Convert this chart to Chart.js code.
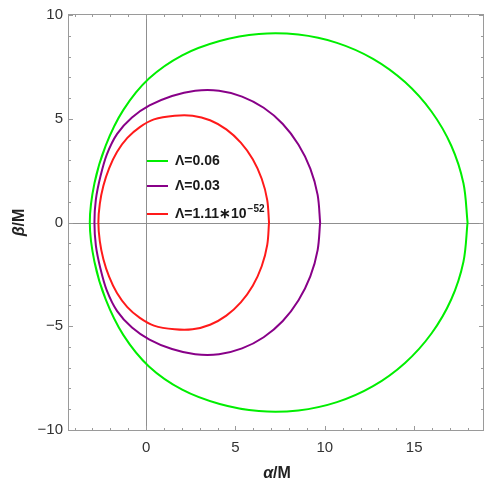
<!DOCTYPE html>
<html>
<head>
<meta charset="utf-8">
<script src="https://cdn.jsdelivr.net/npm/chart.js@4/dist/chart.umd.min.js"></script>
<style>
  html, body { margin: 0; padding: 0; background: #fff; }
  #wrap { width: 486px; height: 484px; }
</style>
</head>
<body>
<div id="wrap"><canvas id="shadowChart" width="486" height="484"></canvas></div>
<script>
// shadow contours (alpha/M, beta/M), traced counterclockwise from the right edge
const alphaGreen = [17.99, 17.76, 17.08, 15.97, 14.49, 12.70, 10.68, 8.52, 6.31, 4.12, 2.02, 0.16, -1.27, -2.26, -2.89, -3.15,
  -2.89, -2.26, -1.27, 0.16, 2.02, 4.12, 6.31, 8.52, 10.68, 12.70, 14.49, 15.97, 17.08, 17.76, 17.99];
const betaGreen = [0, 1.89, 3.70, 5.35, 6.77, 7.89, 8.66, 9.06, 9.09, 8.75, 8.06, 6.94, 5.43, 3.71, 1.89, 0,
  -1.89, -3.71, -5.43, -6.94, -8.06, -8.75, -9.09, -9.06, -8.66, -7.89, -6.77, -5.35, -3.70, -1.89, 0];

const alphaPurple = [9.74, 9.60, 9.19, 8.53, 7.65, 6.58, 5.37, 4.08, 2.75, 1.45, 0.19, -0.79, -1.62, -2.20, -2.56, -2.81, -2.89,
  -2.81, -2.56, -2.20, -1.62, -0.79, 0.19, 1.45, 2.75, 4.08, 5.37, 6.58, 7.65, 8.53, 9.19, 9.60, 9.74];
const betaPurple = [0, 1.33, 2.60, 3.75, 4.75, 5.53, 6.07, 6.35, 6.35, 6.10, 5.64, 5.06, 4.27, 3.27, 2.20, 1.11, 0,
  -1.11, -2.20, -3.27, -4.27, -5.06, -5.64, -6.10, -6.35, -6.35, -6.07, -5.53, -4.75, -3.75, -2.60, -1.33, 0];

const alphaRed = [6.88, 6.78, 6.47, 5.97, 5.30, 4.49, 3.58, 2.60, 1.60, 0.44, -0.35, -1.05, -1.63, -2.07, -2.39, -2.59, -2.67,
  -2.59, -2.39, -2.07, -1.63, -1.05, -0.35, 0.44, 1.60, 2.60, 3.58, 4.49, 5.30, 5.97, 6.47, 6.78, 6.88];
const betaRed = [0, 1.08, 2.11, 3.05, 3.85, 4.49, 4.93, 5.15, 5.15, 4.97, 4.60, 4.08, 3.40, 2.61, 1.77, 0.90, 0,
  -0.90, -1.77, -2.61, -3.40, -4.08, -4.60, -4.97, -5.15, -5.15, -4.93, -4.49, -3.85, -3.05, -2.11, -1.08, 0];

const lambdaLabels = ["Λ=0.06", "Λ=0.03", "Λ=1.11∗10"];
const lambdaExponents = ["", "", "−52"];
const xTickValues = [0, 5, 10, 15];
const yTickValues = [-10, -5, 0, 5, 10];

const lineColors = ["#00ee00", "#880088", "#ff1a1a"];
const FONT = "'Liberation Sans', Arial, sans-serif";

function toPoints(xs, ys) {
  return xs.map((v, i) => ({ x: v, y: ys[i] }));
}

function fmtTick(v) {
  return v < 0 ? "−" + Math.abs(v) : String(v);
}

// frame, inward ticks, zero axes, legend and axis titles
const framePlugin = {
  id: "frame",
  beforeDatasetsDraw(chart) {
    const { ctx, chartArea: a, scales: { x, y } } = chart;
    ctx.save();
    ctx.strokeStyle = "#8f8f8f";
    ctx.lineWidth = 1;
    const x0 = Math.round(x.getPixelForValue(0)) + 0.5;
    const y0 = Math.round(y.getPixelForValue(0)) + 0.5;
    ctx.beginPath();
    ctx.moveTo(x0, a.top);
    ctx.lineTo(x0, a.bottom);
    ctx.moveTo(a.left, y0);
    ctx.lineTo(a.right, y0);
    ctx.stroke();
    ctx.restore();
  },
  afterDatasetsDraw(chart) {
    const { ctx, chartArea: a, scales: { x, y } } = chart;
    ctx.save();
    ctx.strokeStyle = "#9a9a9a";
    ctx.lineWidth = 1;
    ctx.strokeRect(a.left + 0.5, a.top + 0.5, a.right - a.left - 1, a.bottom - a.top - 1);

    ctx.beginPath();
    for (let v = Math.ceil(x.min); v <= Math.floor(x.max); v++) {
      const len = v % 5 === 0 ? 5 : 3;
      const px = Math.round(x.getPixelForValue(v)) + 0.5;
      ctx.moveTo(px, a.bottom);
      ctx.lineTo(px, a.bottom - len);
      ctx.moveTo(px, a.top);
      ctx.lineTo(px, a.top + len);
    }
    for (let v = Math.ceil(y.min); v <= Math.floor(y.max); v++) {
      const len = v % 5 === 0 ? 5 : 3;
      const py = Math.round(y.getPixelForValue(v)) + 0.5;
      ctx.moveTo(a.left, py);
      ctx.lineTo(a.left + len, py);
      ctx.moveTo(a.right, py);
      ctx.lineTo(a.right - len, py);
    }
    ctx.stroke();

    // legend
    const lx = 147, ly = [161, 186, 214];
    ctx.textBaseline = "middle";
    ctx.fillStyle = "#1a1a1a";
    chart.data.datasets.forEach((ds, i) => {
      ctx.strokeStyle = ds.borderColor;
      ctx.lineWidth = 2;
      ctx.beginPath();
      ctx.moveTo(lx, ly[i]);
      ctx.lineTo(lx + 21, ly[i]);
      ctx.stroke();
      ctx.font = "bold 14px " + FONT;
      ctx.fillText(lambdaLabels[i], lx + 28, ly[i]);
      if (lambdaExponents[i]) {
        const w = ctx.measureText(lambdaLabels[i]).width;
        ctx.font = "bold 10px " + FONT;
        ctx.fillText(lambdaExponents[i], lx + 29 + w, ly[i] - 5);
      }
    });

    // axis titles: italic greek letter followed by "/M"
    ctx.fillStyle = "#222";
    ctx.textBaseline = "middle";
    const drawTitle = (greek) => {
      ctx.font = "italic bold 16px " + FONT;
      const w1 = ctx.measureText(greek).width;
      ctx.font = "bold 16px " + FONT;
      const w2 = ctx.measureText("/M").width;
      const sx = -(w1 + w2) / 2;
      ctx.font = "italic bold 16px " + FONT;
      ctx.fillText(greek, sx, 0);
      ctx.font = "bold 16px " + FONT;
      ctx.fillText("/M", sx + w1, 0);
    };
    ctx.save();
    ctx.translate((a.left + a.right) / 2 + 1, 474);
    drawTitle("α");
    ctx.restore();
    ctx.save();
    ctx.translate(20, (a.top + a.bottom) / 2);
    ctx.rotate(-Math.PI / 2);
    drawTitle("β");
    ctx.restore();

    ctx.restore();
  }
};

const ctx = document.getElementById("shadowChart").getContext("2d");
const curves = [
  toPoints(alphaGreen, betaGreen),
  toPoints(alphaPurple, betaPurple),
  toPoints(alphaRed, betaRed)
];

// line controller (not scatter) so the bezier control points get computed
new Chart(ctx, {
  type: "line",
  data: {
    datasets: curves.map((pts, i) => ({
      label: lambdaLabels[i] + lambdaExponents[i],
      data: pts,
      borderColor: lineColors[i],
      backgroundColor: lineColors[i],
      borderWidth: 2,
      pointRadius: 0,
      tension: 0.33,
      fill: false
    }))
  },
  options: {
    responsive: false,
    animation: false,
    layout: { padding: { top: 14, right: 2, left: 0, bottom: 0 } },
    plugins: {
      legend: { display: false },
      tooltip: { enabled: false }
    },
    scales: {
      x: {
        type: "linear",
        min: -4.37,
        max: 18.91,
        grid: { display: false, drawTicks: false },
        border: { display: false },
        afterFit: (scale) => { scale.height = 53; },
        afterBuildTicks: (scale) => { scale.ticks = xTickValues.map((v) => ({ value: v })); },
        ticks: {
          padding: 8,
          maxRotation: 0,
          autoSkip: false,
          color: "#333",
          font: { family: FONT, size: 15 },
          callback: fmtTick
        }
      },
      y: {
        type: "linear",
        min: -10.05,
        max: 10.05,
        grid: { display: false, drawTicks: false },
        border: { display: false },
        afterFit: (scale) => { scale.width = 68; },
        afterBuildTicks: (scale) => { scale.ticks = yTickValues.map((v) => ({ value: v })); },
        ticks: {
          padding: 5,
          autoSkip: false,
          color: "#333",
          font: { family: FONT, size: 15 },
          callback: fmtTick
        }
      }
    }
  },
  plugins: [framePlugin]
});
</script>
</body>
</html>
